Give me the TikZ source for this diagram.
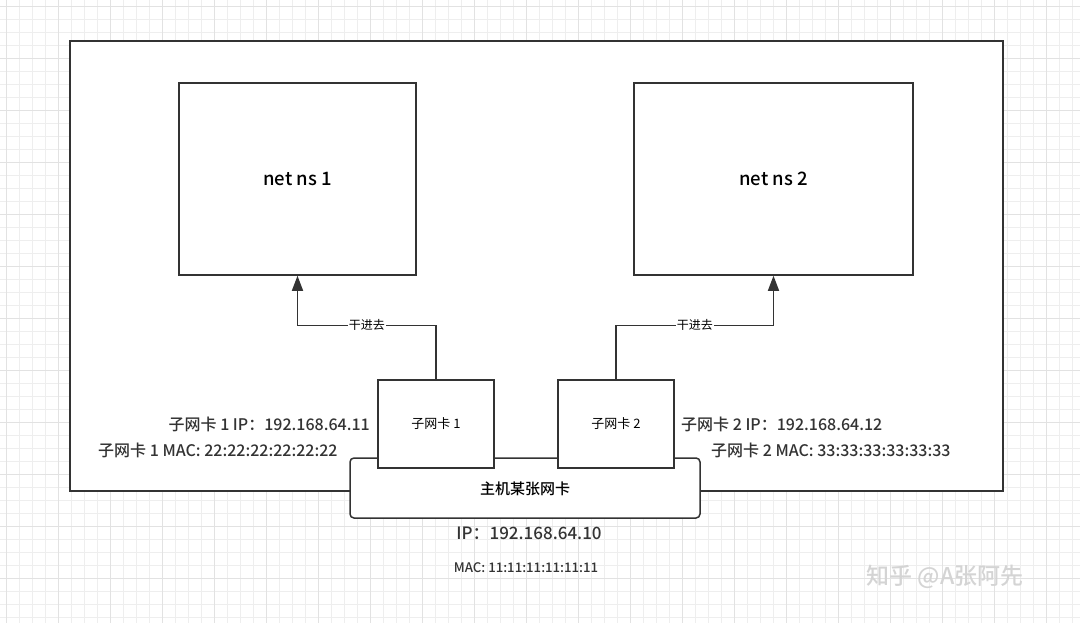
\documentclass[tikz,border=0pt]{standalone}
\usepackage{fontspec}
\setmainfont{Noto Sans CJK SC}[BoldFont={Noto Sans CJK SC Medium}]
\usetikzlibrary{arrows.meta,positioning}
\definecolor{NSLine}{HTML}{333333}
\definecolor{NSGrid}{HTML}{EEEEEE}
\definecolor{NSGridDark}{HTML}{E2E2E2}
\definecolor{NSMark}{HTML}{D4D4D4}
\tikzset{
  nsframe/.style={
    draw=NSLine,
    fill=white,
    line width=1.7pt
  },
  nsbox/.style={
    draw=NSLine,
    fill=white,
    line width=1.5pt,
    align=center,
    font=\fontsize{15}{18}\selectfont\bfseries
  },
  nsnic/.style={
    nsbox,
    font=\fontsize{13}{16}\selectfont
  },
  nshost/.style={
    nsbox,
    rounded corners=4pt
  },
  nsflow/.style={-{Triangle[length=15pt,width=11pt]},draw=NSLine,line width=1.5pt},
  nstag/.style={fill=white,inner sep=1pt,font=\fontsize{12}{14}\selectfont},
  nsinfo/.style={inner sep=0pt,font=\fontsize{16}{19}\selectfont\bfseries,text=NSLine}
}
\begin{document}
\begin{tikzpicture}[x=1pt,y=-1pt]
  \useasboundingbox (0,0) rectangle (1080,623);
  % background grid
  \foreach \g in {0,...,83} {
    \draw[NSGrid,line width=0.6pt] (6+13*\g,0) -- (6+13*\g,623);
  }
  \foreach \g in {0,...,48} {
    \draw[NSGrid,line width=0.6pt] (0,6+13*\g) -- (1080,6+13*\g);
  }
  \foreach \g in {0,...,20} {
    \draw[NSGridDark,line width=0.8pt] (6+52*\g,0) -- (6+52*\g,623);
  }
  \foreach \g in {0,...,12} {
    \draw[NSGridDark,line width=0.8pt] (0,6+52*\g) -- (1080,6+52*\g);
  }
  % host frame and boxes
  \node[nsframe,minimum width=933pt,minimum height=450pt] (host) at (536.5,266) {};
  \node[nsbox,minimum width=237pt,minimum height=192pt,font=\fontsize{18.5}{21}\selectfont\bfseries] (ns1) at (297.5,179) {net ns 1};
  \node[nsbox,minimum width=279pt,minimum height=192pt,font=\fontsize{18.5}{21}\selectfont\bfseries] (ns2) at (773.5,179) {net ns 2};
  \node[nshost,minimum width=350pt,minimum height=60pt,text depth=0pt] (eth) at (525,488) {主机某张网卡};
  \node[nsnic,minimum width=116pt,minimum height=88pt] (nic1) at (436,424) {子网卡 1};
  \node[nsnic,minimum width=116pt,minimum height=88pt] (nic2) at (616,424) {子网卡 2};
  % moved into the namespaces
  \draw[nsflow] (nic1.north) -- ++(0,-54) -| (ns1.south) node[pos=0.25,nstag] {干进去};
  \draw[nsflow] (nic2.north) -- ++(0,-54) -| (ns2.south) node[pos=0.25,nstag] {干进去};
  % addresses
  \node[nsinfo,anchor=east] (ip1) at (370,424) {子网卡 1 IP：192.168.64.11};
  \node[nsinfo,anchor=west] (mac1) at (98,450) {子网卡 1 MAC: 22:22:22:22:22:22};
  \node[nsinfo,anchor=west] (ip2) at (681,424) {子网卡 2 IP：192.168.64.12};
  \node[nsinfo,anchor=west] (mac2) at (711,450) {子网卡 2 MAC: 33:33:33:33:33:33};
  \node[nsinfo,font=\fontsize{17}{20}\selectfont\bfseries] (ethip) at (529,533) {IP：192.168.64.10};
  \node[nsinfo,font=\fontsize{13.2}{16}\selectfont\bfseries] (ethmac) at (526,568) {MAC: 11:11:11:11:11:11};
  % watermark
  \node[text=NSMark,font=\fontsize{23}{26}\selectfont\bfseries] (mark) at (945,577) {知乎 @A张阿先};
\end{tikzpicture}
\end{document}
